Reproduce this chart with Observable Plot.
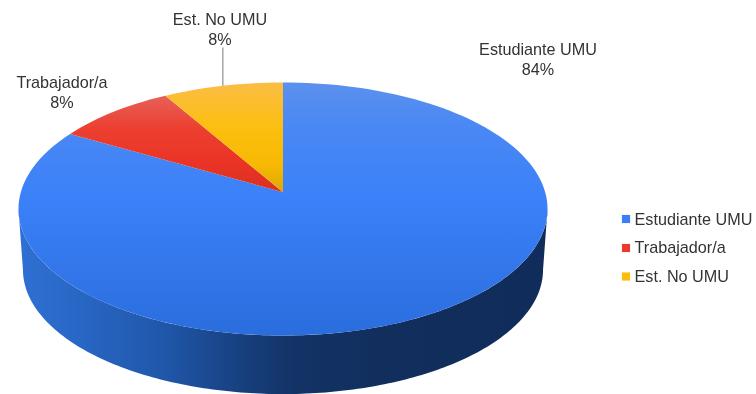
<!DOCTYPE html>
<html>
<head>
<meta charset="utf-8">
<script src="https://cdn.jsdelivr.net/npm/d3@7"></script>
<script src="https://cdn.jsdelivr.net/npm/@observablehq/plot@0.6"></script>
<style>
html,body{margin:0;padding:0;background:#fff}
svg{display:block;filter:blur(0.55px)}
</style>
</head>
<body>
<div id="chart"></div>
<script>
const categories = ["Estudiante UMU", "Trabajador/a", "Est. No UMU"];
const shares = [83.33, 8.33, 8.33];
const percentLabels = ["84%", "8%", "8%"];

const W = 756, H = 394;
// Perspective view of the disc: a circle projected so its centre falls above the ellipse's centre.
const cx = 282.5, cy = 191.7, a = 262.2, b = 124.3, k = 0.1327;
const project = (t, s = 1, dy = 0) => {
  const u = Math.sin(t), v = Math.cos(t), d = 1 + k * v;
  return [cx + s * a * u / d, cy + dy - s * b * v / d];
};
const total = d3.sum(shares);
const angle = share => share / total * 2 * Math.PI;
const N = 180;
let acc = 0;
const slices = categories.map((name, i) => {
  const t0 = acc, t1 = acc + angle(shares[i]);
  acc = t1;
  const pts = [[cx, cy]];
  const n = Math.max(8, Math.round(N * (t1 - t0) / (2 * Math.PI)));
  for (let j = 0; j <= n; j++) pts.push(project(t0 + (t1 - t0) * j / n));
  pts.push([cx, cy]);
  return {name, pct: percentLabels[i], mid: (t0 + t1) / 2, pts};
});
const sliceRows = slices.flatMap(s => s.pts.map(([x, y]) => ({x, y, name: s.name})));

// Side wall: from the widest left point round the front to the widest right point.
const tw = Math.PI - Math.acos(k);   // front-side parameter of the widest point
const wall = [];
for (let j = 0; j <= N; j++) { const t = tw + (2 * Math.PI - 2 * tw) * j / N; wall.push(project(t, 0.983, 61)); }
for (let j = N; j >= 0; j--) { const t = tw + (2 * Math.PI - 2 * tw) * j / N; wall.push(project(t)); }
const wallRows = wall.map(([x, y]) => ({x, y}));

const gradientId = {"Estudiante UMU": "g-blue", "Trabajador/a": "g-red", "Est. No UMU": "g-yellow"};
const legendColor = {"Estudiante UMU": "#3b7ef5", "Trabajador/a": "#ea3a2c", "Est. No UMU": "#fbbc0a"};

function defs() {
  const d = d3.create("svg:defs");
  const grad = (id, stops, x1, y1, x2, y2) => {
    const g = d.append("linearGradient").attr("id", id).attr("gradientUnits", "userSpaceOnUse")
      .attr("x1", x1).attr("y1", y1).attr("x2", x2).attr("y2", y2);
    stops.forEach(([o, c]) => g.append("stop").attr("offset", o).attr("stop-color", c));
  };
  grad("g-blue", [[0, "#5c90ee"], [0.17, "#4a88f4"], [0.45, "#3c81f9"], [1, "#2a6ddd"]], 0, 82, 0, 335);
  grad("g-red", [[0, "#e86058"], [0.35, "#ec3f30"], [0.7, "#ea3425"], [1, "#d93120"]], 0, 95, 0, 191);
  grad("g-yellow", [[0, "#fbbd42"], [0.4, "#fcbf10"], [0.75, "#f7b902"], [1, "#dfa705"]], 0, 84, 0, 191);
  grad("g-wall", [[0, "#2e70d2"], [0.12, "#2866c4"], [0.28, "#1f56a8"], [0.42, "#17407f"], [0.52, "#133367"], [0.7, "#112e5c"], [1, "#102c5a"]], 20, 0, 545, 0);
  return d.node();
}

const labelRows = [
  {name: categories[0], pct: percentLabels[0], x: 537.5, y: 74},
  {name: categories[1], pct: percentLabels[1], x: 61.5, y: 107},
  {name: categories[2], pct: percentLabels[2], x: 219.5, y: 44}
];
const leaderEnd = project(slices[2].mid);
const legendRows = categories.map((name, i) => ({name, y: [218.5, 247.5, 276][i], ty: [224, 252.7, 281][i]}));

const fontFamily = '"Liberation Sans", Arial, sans-serif';
const chart = Plot.plot({
  width: W, height: H,
  margin: 0,
  x: {domain: [0, W], range: [0, W], axis: null},
  y: {domain: [0, H], range: [0, H], axis: null},
  style: {fontFamily, background: "#fff"},
  marks: [
    defs,
    Plot.line(wallRows, {x: "x", y: "y", fill: "url(#g-wall)", stroke: "none", curve: "linear"}),
    ...slices.map(s => Plot.line(sliceRows.filter(r => r.name === s.name), {
      x: "x", y: "y", fill: `url(#${gradientId[s.name]})`, stroke: "none", curve: "linear"
    })),
    Plot.link([{x1: leaderEnd[0], y1: 47, x2: leaderEnd[0], y2: leaderEnd[1]}], {
      x1: "x1", y1: "y1", x2: "x2", y2: "y2", stroke: "#777", strokeWidth: 1
    }),
    Plot.text(labelRows, {
      x: "x", y: "y", text: d => `${d.name}\n${d.pct}`, textAnchor: "middle", lineAnchor: "bottom",
      lineHeight: 1.18, fontSize: 16.2, fill: "#333"
    }),
    Plot.dot(legendRows, {
      x: () => 625.5, y: "y", symbol: "square", r: 4.6, fill: d => legendColor[d.name], stroke: "none"
    }),
    Plot.text(legendRows, {
      x: () => 634, y: "ty", text: "name", textAnchor: "start", lineAnchor: "bottom",
      fontSize: 16.2, fill: "#333"
    })
  ]
});
document.getElementById("chart").appendChild(chart);
</script>
</body>
</html>
